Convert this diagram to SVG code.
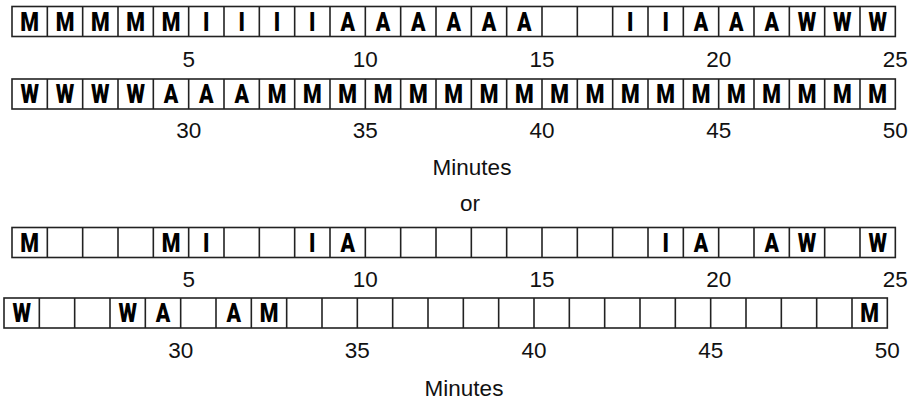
<svg xmlns="http://www.w3.org/2000/svg" xmlns:xlink="http://www.w3.org/1999/xlink" width="917" height="400" viewBox="0 0 917 400">
<style>
.grid{fill:#fff;stroke:#222;stroke-width:1.6}
.c{font-family:Roboto,"Liberation Sans",sans-serif;font-weight:900;font-size:26px;fill:#000;text-anchor:middle}
.n{font-family:"Liberation Sans",Arial,sans-serif;font-size:22.5px;fill:#111;text-anchor:middle}
</style>
<defs>
<g id="grid">
<rect class="grid" x="0" y="0" width="883.33" height="30"/>
<path class="grid" d="M35.33 0V30M70.67 0V30M106 0V30M141.33 0V30M176.67 0V30M212 0V30M247.33 0V30M282.67 0V30M318 0V30M353.33 0V30M388.67 0V30M424 0V30M459.33 0V30M494.67 0V30M530 0V30M565.33 0V30M600.67 0V30M636 0V30M671.33 0V30M706.67 0V30M742 0V30M777.33 0V30M812.67 0V30M848 0V30"/>
</g>
</defs>
<g id="row1" transform="translate(12,6.5)">
<use xlink:href="#grid" href="#grid"/>
<g transform="scale(0.82,1)">
<text class="c" x="21.55" y="24.5">M</text><text class="c" x="64.63" y="24.5">M</text><text class="c" x="107.72" y="24.5">M</text><text class="c" x="150.82" y="24.5">M</text><text class="c" x="193.9" y="24.5">M</text>
<text class="c" x="236.99" y="24.5">I</text><text class="c" x="280.09" y="24.5">I</text><text class="c" x="323.17" y="24.5">I</text><text class="c" x="366.26" y="24.5">I</text>
<text class="c" x="409.35" y="24.5">A</text><text class="c" x="452.44" y="24.5">A</text><text class="c" x="495.52" y="24.5">A</text><text class="c" x="538.62" y="24.5">A</text><text class="c" x="581.71" y="24.5">A</text><text class="c" x="624.79" y="24.5">A</text>
<text class="c" x="754.06" y="24.5">I</text><text class="c" x="797.16" y="24.5">I</text>
<text class="c" x="840.24" y="24.5">A</text><text class="c" x="883.33" y="24.5">A</text><text class="c" x="926.43" y="24.5">A</text>
<text class="c" x="969.51" y="24.5">W</text><text class="c" x="1012.6" y="24.5">W</text><text class="c" x="1055.7" y="24.5">W</text>
</g>
<text class="n" x="176.67" y="60">5</text><text class="n" x="353.33" y="60">10</text><text class="n" x="530" y="60">15</text><text class="n" x="706.67" y="60">20</text><text class="n" x="883.33" y="60">25</text>
</g>
<g id="row2" transform="translate(12,79)">
<use xlink:href="#grid" href="#grid"/>
<g transform="scale(0.82,1)">
<text class="c" x="21.55" y="24.5">W</text><text class="c" x="64.63" y="24.5">W</text><text class="c" x="107.72" y="24.5">W</text><text class="c" x="150.82" y="24.5">W</text>
<text class="c" x="193.9" y="24.5">A</text><text class="c" x="236.99" y="24.5">A</text><text class="c" x="280.09" y="24.5">A</text>
<text class="c" x="323.17" y="24.5">M</text><text class="c" x="366.26" y="24.5">M</text><text class="c" x="409.35" y="24.5">M</text><text class="c" x="452.44" y="24.5">M</text><text class="c" x="495.52" y="24.5">M</text><text class="c" x="538.62" y="24.5">M</text><text class="c" x="581.71" y="24.5">M</text><text class="c" x="624.79" y="24.5">M</text><text class="c" x="667.89" y="24.5">M</text><text class="c" x="710.98" y="24.5">M</text><text class="c" x="754.06" y="24.5">M</text><text class="c" x="797.16" y="24.5">M</text><text class="c" x="840.24" y="24.5">M</text><text class="c" x="883.33" y="24.5">M</text><text class="c" x="926.43" y="24.5">M</text><text class="c" x="969.51" y="24.5">M</text><text class="c" x="1012.6" y="24.5">M</text><text class="c" x="1055.7" y="24.5">M</text>
</g>
<text class="n" x="176.67" y="59">30</text><text class="n" x="353.33" y="59">35</text><text class="n" x="530" y="59">40</text><text class="n" x="706.67" y="59">45</text><text class="n" x="883.33" y="59">50</text>
</g>
<text id="minutes1" class="n" x="472" y="175">Minutes</text>
<text id="or" class="n" x="470" y="211">or</text>
<g id="row3" transform="translate(12,227.5)">
<use xlink:href="#grid" href="#grid"/>
<g transform="scale(0.82,1)">
<text class="c" x="21.55" y="24.5">M</text>
<text class="c" x="193.9" y="24.5">M</text><text class="c" x="236.99" y="24.5">I</text>
<text class="c" x="366.26" y="24.5">I</text><text class="c" x="409.35" y="24.5">A</text>
<text class="c" x="797.16" y="24.5">I</text><text class="c" x="840.24" y="24.5">A</text>
<text class="c" x="926.43" y="24.5">A</text><text class="c" x="969.51" y="24.5">W</text>
<text class="c" x="1055.7" y="24.5">W</text>
</g>
<text class="n" x="176.67" y="59">5</text><text class="n" x="353.33" y="59">10</text><text class="n" x="530" y="59">15</text><text class="n" x="706.67" y="59">20</text><text class="n" x="883.33" y="59">25</text>
</g>
<g id="row4" transform="translate(4,298)">
<use xlink:href="#grid" href="#grid"/>
<g transform="scale(0.82,1)">
<text class="c" x="21.55" y="24.5">W</text>
<text class="c" x="150.82" y="24.5">W</text><text class="c" x="193.9" y="24.5">A</text>
<text class="c" x="280.09" y="24.5">A</text><text class="c" x="323.17" y="24.5">M</text>
<text class="c" x="1055.7" y="24.5">M</text>
</g>
<text class="n" x="176.67" y="60">30</text><text class="n" x="353.33" y="60">35</text><text class="n" x="530" y="60">40</text><text class="n" x="706.67" y="60">45</text><text class="n" x="883.33" y="60">50</text>
</g>
<text id="minutes2" class="n" x="464" y="396">Minutes</text>
</svg>
